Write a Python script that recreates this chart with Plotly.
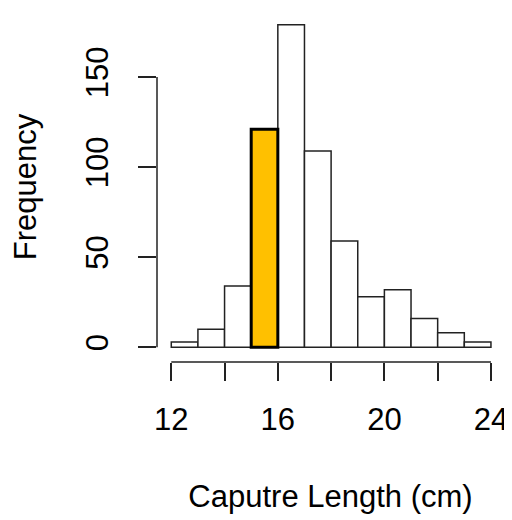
import plotly.graph_objects as go

bin_left = [12, 13, 14, 15, 16, 17, 18, 19, 20, 21, 22, 23]
counts = [3, 10, 34, 121, 179, 109, 59, 28, 32, 16, 8, 3]
highlight_bin = 15
x_ticks = [12, 14, 16, 18, 20, 22, 24]
x_ticktext = ["12", "", "16", "", "20", "", "24"]
y_ticks = [0, 50, 100, 150]
x_title = "Caputre Length (cm)"
y_title = "Frequency"

centers = [b + 0.5 for b in bin_left]
norm_x = [c for c, b in zip(centers, bin_left) if b != highlight_bin]
norm_y = [v for v, b in zip(counts, bin_left) if b != highlight_bin]
hi_x = [c for c, b in zip(centers, bin_left) if b == highlight_bin]
hi_y = [v for v, b in zip(counts, bin_left) if b == highlight_bin]

FONT = "Liberation Sans, Arial, sans-serif"

fig = go.Figure()
fig.add_trace(go.Bar(x=norm_x, y=norm_y, width=1, marker=dict(color="white", line=dict(color="#222", width=1.5))))
fig.add_trace(go.Bar(x=hi_x, y=hi_y, width=1, marker=dict(color="#FFC000", line=dict(color="black", width=3))))

# page body has an 8px default margin, so the figure is sized 8px smaller
fig.update_layout(
    width=504, height=512,
    margin=dict(l=149, r=8, t=4, b=158, autoexpand=False),
    plot_bgcolor="white", paper_bgcolor="white",
    showlegend=False, barmode="overlay",
    font=dict(family=FONT, size=31, color="black"),
    xaxis=dict(range=[11.464, 24.49], tickvals=x_ticks, ticktext=x_ticktext,
               ticks="outside", ticklen=18, tickwidth=1.5, tickcolor="#222",
               showgrid=False, zeroline=False, showline=False, automargin=False,
               ticklabelstandoff=12, ticklabeloverflow="allow",
               title=dict(text=x_title, standoff=49, font=dict(size=31))),
    yaxis=dict(range=[-8.17, 186.1], tickvals=y_ticks, tickangle=-90,
               ticks="outside", ticklen=18, tickwidth=1.5, tickcolor="#222",
               showgrid=False, zeroline=False, showline=False, automargin=False,
               ticklabelstandoff=18, ticklabeloverflow="allow",
               title=dict(text=y_title, standoff=37, font=dict(size=31))),
)
# R-style detached axis lines spanning first to last tick
fig.add_shape(type="line", xref="x", yref="paper", x0=x_ticks[0], x1=x_ticks[-1], y0=0, y1=0,
              line=dict(color="#222", width=1.5))
fig.add_shape(type="line", xref="paper", yref="y", x0=0, x1=0, y0=y_ticks[0], y1=y_ticks[-1],
              line=dict(color="#222", width=1.5))
fig.write_html("out.html")
